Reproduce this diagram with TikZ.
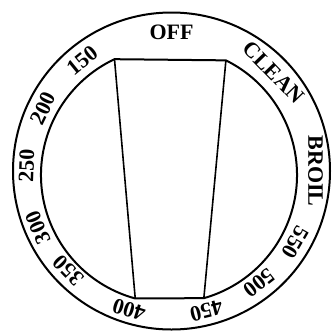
\documentclass[tikz,border=0pt]{standalone}
\usepackage{fontspec}
\setmainfont{Liberation Serif}
\usetikzlibrary{calc}

\begin{document}
\begin{tikzpicture}[x=1pt, y=1pt,
    dialline/.style={draw=black, line width=2pt},
    panelline/.style={draw=black, line width=1.6pt},
    dialtxt/.style={inner sep=0pt, font=\fontsize{22}{22}\selectfont\bfseries}
  ]
    \useasboundingbox (-171.5,-162) rectangle (162.5,171);
    % centres of the two rings
    \coordinate (oc) at (0,0);
    \coordinate (ic) at (-2.5,-4);
    % outer rim
    \draw[dialline] (oc) circle[radius=158.5pt];
    % inner face, cut flat at top and bottom
    \coordinate (tr) at ($(ic)+(63.6:128pt)$);
    \coordinate (br) at ($(ic)+(-74.2:128pt)$);
    \coordinate (bl) at ($(ic)+(254.7:128pt)$);
    \coordinate (tl) at ($(ic)+(115.2:128pt)$);
    \draw[dialline] (tr) arc[start angle=63.6, end angle=-74.2, radius=128pt]
      -- (bl) arc[start angle=254.7, end angle=115.2, radius=128pt] -- cycle;
    \draw[panelline] (tl) -- (bl);
    \draw[panelline] (tr) -- (br);
    % dial markings
    \node[dialtxt] (toff)   at (90:139)  {OFF};
    \node[dialtxt, rotate=-46] (tclean) at (44:142) {CLEAN};
    \node[dialtxt, rotate=-90] (tbroil) at (0:144)  {BROIL};
    \node[dialtxt, rotate=240] (t550) at (330:143) {550};
    \node[dialtxt, rotate=218] (t500) at (308:142) {500};
    \node[dialtxt, rotate=194] (t450) at (284:144) {450};
    \node[dialtxt, rotate=163] (t400) at (253:145) {400};
    \node[dialtxt, rotate=134] (t350) at (224:143) {350};
    \node[dialtxt, rotate=113] (t300) at (203:145) {300};
    \node[dialtxt, rotate=88]  (t250) at (178:145) {250};
    \node[dialtxt, rotate=64]  (t200) at (154:143) {200};
    \node[dialtxt, rotate=39]  (t150) at (129:142) {150};
  \end{tikzpicture}
\end{document}
